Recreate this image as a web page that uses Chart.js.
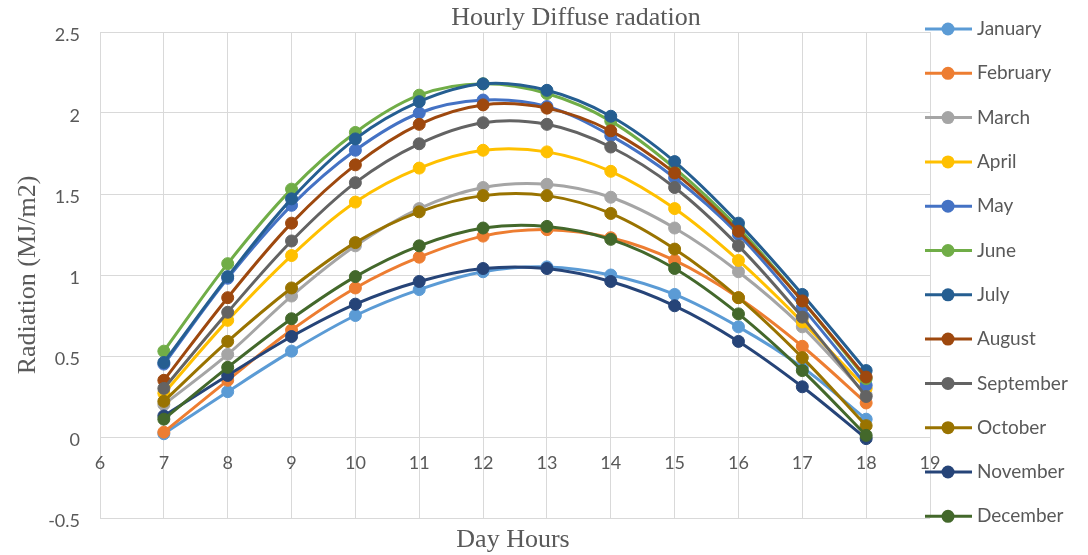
<!DOCTYPE html>
<html>
<head>
<meta charset="utf-8">
<title>Hourly Diffuse radation</title>
<script src="https://cdn.jsdelivr.net/npm/chart.js@4.4.1/dist/chart.umd.min.js"></script>
<style>
    html, body { margin: 0; padding: 0; background: #ffffff; }
    #wrap { width: 1088px; height: 555px; position: relative; }
</style>
</head>
<body>
<div id="wrap"><canvas id="chart" width="1088" height="555"></canvas></div>
<script>
// --- Data ---
const hours = [7, 8, 9, 10, 11, 12, 13, 14, 15, 16, 17, 18];

const january   = [0.02, 0.28, 0.53, 0.75, 0.91, 1.02, 1.05, 1.00, 0.88, 0.68, 0.43, 0.11];
const february  = [0.03, 0.35, 0.66, 0.92, 1.11, 1.24, 1.28, 1.23, 1.09, 0.86, 0.56, 0.21];
const march     = [0.20, 0.51, 0.87, 1.18, 1.41, 1.54, 1.56, 1.48, 1.29, 1.02, 0.68, 0.26];
const april     = [0.27, 0.72, 1.12, 1.45, 1.66, 1.77, 1.76, 1.64, 1.41, 1.09, 0.71, 0.30];
const may       = [0.45, 0.98, 1.43, 1.77, 2.00, 2.08, 2.04, 1.86, 1.60, 1.25, 0.80, 0.32];
const june      = [0.53, 1.07, 1.53, 1.88, 2.11, 2.18, 2.12, 1.95, 1.66, 1.29, 0.84, 0.36];
const july      = [0.46, 0.99, 1.47, 1.84, 2.07, 2.18, 2.14, 1.98, 1.70, 1.32, 0.88, 0.41];
const august    = [0.35, 0.86, 1.32, 1.68, 1.93, 2.05, 2.03, 1.89, 1.63, 1.27, 0.84, 0.37];
const september = [0.30, 0.77, 1.21, 1.57, 1.81, 1.94, 1.93, 1.79, 1.54, 1.18, 0.74, 0.25];
const october   = [0.22, 0.59, 0.92, 1.20, 1.39, 1.49, 1.49, 1.38, 1.16, 0.86, 0.49, 0.07];
const november  = [0.13, 0.38, 0.62, 0.82, 0.96, 1.04, 1.04, 0.96, 0.81, 0.59, 0.31, -0.01];
const december  = [0.11, 0.43, 0.73, 0.99, 1.18, 1.29, 1.30, 1.22, 1.04, 0.76, 0.41, 0.01];

const monthNames = ['January', 'February', 'March', 'April', 'May', 'June',
    'July', 'August', 'September', 'October', 'November', 'December'];
const monthSeries = [january, february, march, april, may, june,
    july, august, september, october, november, december];
const monthColors = ['#5B9BD5', '#ED7D31', '#A5A5A5', '#FFC000', '#4472C4', '#70AD47',
    '#255E91', '#9E480E', '#636363', '#997300', '#264478', '#43682B'];

const chartTitle = 'Hourly Diffuse radation';
const xTitle = 'Day Hours';
const yTitle = 'Radiation (MJ/m2)';

const TEXT_GREY = '#595959';
const GRID_GREY = '#d9d9d9';
const SERIF = '"Liberation Serif", "Times New Roman", serif';
const SANS = 'Lato, "Open Sans", sans-serif';

// --- Datasets (later months drawn on top, like the original) ---
const datasets = monthSeries.map((values, i) => ({
    label: monthNames[i],
    data: hours.map((h, j) => ({ x: h, y: values[j] })),
    borderColor: monthColors[i],
    backgroundColor: monthColors[i],
    pointBackgroundColor: monthColors[i],
    pointBorderColor: monthColors[i],
    borderWidth: 3,
    pointRadius: 6,
    pointBorderWidth: 1,
    tension: 0.35,
    order: monthSeries.length - i
}));

// Title, axis titles and the line+marker legend drawn straight on the canvas
const decorations = {
    id: 'decorations',
    afterDraw(chart) {
        const ctx = chart.ctx;
        ctx.save();
        ctx.fillStyle = TEXT_GREY;
        ctx.textAlign = 'center';
        ctx.textBaseline = 'middle';

        ctx.font = '26px ' + SERIF;
        ctx.fillText(chartTitle, 576, 18);
        ctx.fillText(xTitle, 513, 540);

        ctx.save();
        ctx.translate(28, 275);
        ctx.rotate(-Math.PI / 2);
        ctx.fillText(yTitle, 0, 0);
        ctx.restore();

        // legend
        ctx.textAlign = 'left';
        ctx.font = '19px ' + SANS;
        chart.data.datasets.forEach((ds, i) => {
            const y = 29 + i * 44.3;
            ctx.strokeStyle = ds.borderColor;
            ctx.lineWidth = 3;
            ctx.beginPath();
            ctx.moveTo(925, y);
            ctx.lineTo(972, y);
            ctx.stroke();
            ctx.fillStyle = ds.borderColor;
            ctx.beginPath();
            ctx.arc(948, y, 6.5, 0, Math.PI * 2);
            ctx.fill();
            ctx.fillStyle = TEXT_GREY;
            ctx.fillText(ds.label, 977, y);
        });
        ctx.restore();
    }
};

const chart = new Chart(document.getElementById('chart'), {
    type: 'line',
    data: { datasets },
    options: {
        responsive: false,
        animation: false,
        devicePixelRatio: 1,
        events: [],
        layout: { padding: { left: 0, top: 32, right: 158, bottom: 37 } },
        plugins: {
            legend: { display: false },
            title: { display: false },
            tooltip: { enabled: false }
        },
        scales: {
            x: {
                type: 'linear',
                position: { y: 0 },
                min: 6,
                max: 19,
                ticks: { stepSize: 1, color: TEXT_GREY, font: { family: SANS, size: 18 }, padding: 15 },
                grid: { color: GRID_GREY, lineWidth: 1, drawTicks: false },
                border: { display: false }
            },
            y: {
                min: -0.5,
                max: 2.5,
                ticks: {
                    stepSize: 0.5,
                    color: TEXT_GREY,
                    font: { family: SANS, size: 18 },
                    padding: 20,
                    labelOffset: 3,
                    callback: value => String(Number(value.toFixed(1)))
                },
                grid: { color: GRID_GREY, lineWidth: 1, drawTicks: false },
                border: { display: false },
                afterFit(scale) { scale.width = 100; }
            }
        }
    },
    plugins: [decorations]
});
</script>
</body>
</html>
